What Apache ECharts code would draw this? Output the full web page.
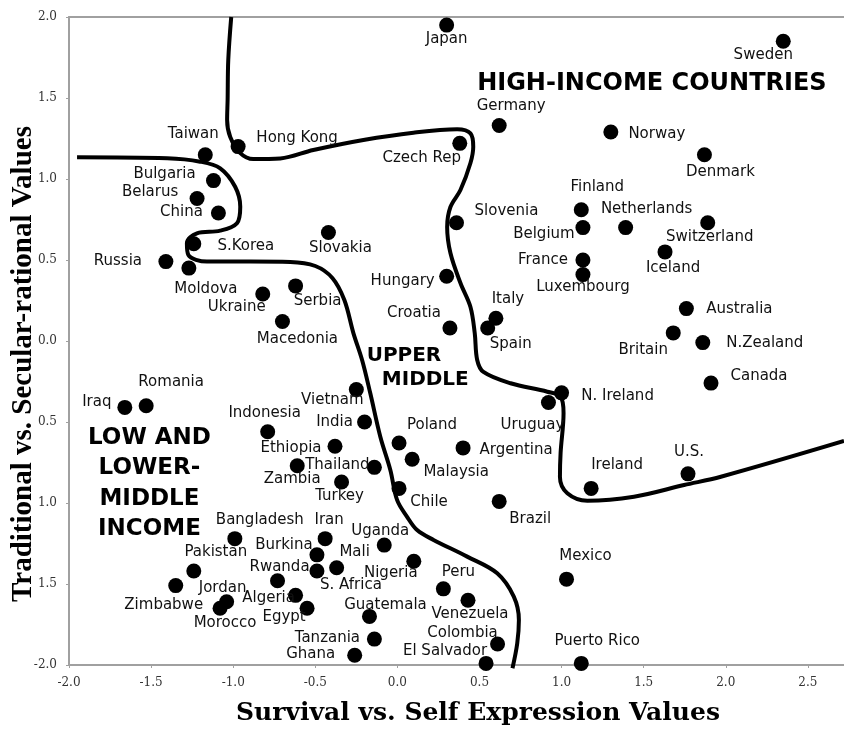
<!DOCTYPE html>
<html><head><meta charset="utf-8">
<script src="https://cdn.jsdelivr.net/npm/echarts@6/dist/echarts.min.js"></script>
<style>html,body{margin:0;padding:0;background:#fff}#c{width:844px;height:729px}</style>
</head><body><div id="c"></div>
<script>
// ---- data ----
const countries = ['Japan','Sweden','Germany','Norway','Czech Rep','Hong Kong','Taiwan','Denmark','Bulgaria','Belarus','China','Finland','Slovenia','Switzerland','Belgium','Netherlands','Slovakia','S.Korea','Iceland','France','Russia','Moldova','Luxembourg','Hungary','Serbia','Ukraine','Australia','Italy','Macedonia','Croatia','Spain','Britain','N.Zealand','Canada','Vietnam','N. Ireland','Uruguay','Romania','Iraq','India','Indonesia','Poland','Ethiopia','Argentina','Malaysia','Zambia','Thailand','Turkey','U.S.','Chile','Ireland','Brazil','Bangladesh','Iran','Uganda','Burkina','Mali','Nigeria','Pakistan','S. Africa','Mexico','Rwanda','Zimbabwe','Peru','Algeria','Venezuela','Jordan','Morocco','Egypt','Guatemala','Tanzania','Colombia','Ghana','Puerto Rico','El Salvador'];
const survivalSelfExpression = [0.30,2.35,0.62,1.30,0.38,-0.97,-1.17,1.87,-1.12,-1.22,-1.09,1.12,0.36,1.89,1.13,1.39,-0.42,-1.24,1.63,1.13,-1.41,-1.27,1.13,0.30,-0.62,-0.82,1.76,0.60,-0.70,0.32,0.55,1.68,1.86,1.91,-0.25,1.00,0.92,-1.53,-1.66,-0.20,-0.79,0.01,-0.38,0.40,0.09,-0.61,-0.14,-0.34,1.77,0.01,1.18,0.62,-0.99,-0.44,-0.08,-0.49,-0.37,0.10,-1.24,-0.49,1.03,-0.73,-1.35,0.28,-0.62,0.43,-1.04,-1.08,-0.55,-0.17,-0.14,0.61,-0.26,1.12,0.54];
const traditionalSecular = [1.95,1.85,1.33,1.29,1.22,1.20,1.15,1.15,0.99,0.88,0.79,0.81,0.73,0.73,0.70,0.70,0.67,0.60,0.55,0.50,0.49,0.45,0.41,0.40,0.34,0.29,0.20,0.14,0.12,0.08,0.08,0.05,-0.01,-0.26,-0.30,-0.32,-0.38,-0.40,-0.41,-0.50,-0.56,-0.63,-0.65,-0.66,-0.73,-0.77,-0.78,-0.87,-0.82,-0.91,-0.91,-0.99,-1.22,-1.22,-1.26,-1.32,-1.40,-1.36,-1.42,-1.42,-1.47,-1.48,-1.51,-1.53,-1.57,-1.60,-1.61,-1.65,-1.65,-1.70,-1.84,-1.87,-1.94,-1.99,-1.99];

const highIncomeBoundary = [[-1.012,2.0],[-1.030,1.735],[-1.034,1.488],[-1.037,1.364],[-1.018,1.259],[-0.957,1.160],[-0.878,1.123],[-0.713,1.127],[-0.512,1.179],[-0.207,1.241],[0.098,1.286],[0.364,1.307],[0.445,1.282],[0.462,1.199],[0.445,1.099],[0.384,0.932],[0.323,0.827],[0.303,0.704],[0.323,0.543],[0.384,0.358],[0.445,0.210],[0.471,0.049],[0.486,-0.117],[0.524,-0.191],[0.689,-0.261],[0.913,-0.313],[0.994,-0.344],[1.012,-0.444],[0.994,-0.691],[0.990,-0.840],[1.035,-0.940],[1.157,-0.986],[1.441,-0.961],[1.746,-0.889],[1.970,-0.838],[2.72,-0.617]];
const lowIncomeBoundary = [[-1.951,1.134],[-1.402,1.128],[-1.201,1.107],[-1.079,1.066],[-0.988,0.952],[-0.957,0.829],[-0.977,0.727],[-1.079,0.681],[-1.221,0.665],[-1.282,0.603],[-1.273,0.531],[-1.160,0.490],[-0.896,0.490],[-0.652,0.488],[-0.500,0.463],[-0.396,0.389],[-0.323,0.253],[-0.268,0.049],[-0.215,-0.117],[-0.165,-0.323],[-0.104,-0.591],[-0.043,-0.796],[-0.002,-0.981],[0.059,-1.085],[0.120,-1.167],[0.220,-1.228],[0.425,-1.331],[0.608,-1.434],[0.709,-1.578],[0.740,-1.722],[0.730,-1.866],[0.701,-2.02]];

const regionNames = ['HIGH-INCOME COUNTRIES','UPPER','MIDDLE','LOW AND\nLOWER-\nMIDDLE\nINCOME'];
const regionX = [1.55, 0.04, 0.17, -1.51];
const regionY = [1.59, -0.09, -0.24, -0.88];

const xTickValues = [-2,-1.5,-1,-0.5,0,0.5,1,1.5,2,2.5];
const xTickLabels = ['-2.0','-1.5','-1.0','-0.5','0.0','0.5','1.0','1.5','2.0','2.5'];
const yTickValues = [-2,-1.5,-1,-0.5,0,0.5,1,1.5,2];
const yTickLabels = ['-2.0','1.5','1.0','0.5','0.0','0.5','1.0','1.5','2.0'];

// ---- label placement (style) ----
const labelOffset = {
 'Japan':[0,14],'Sweden':[-20,14],'Germany':[12,-19],'Norway':[46,2],'Czech Rep':[-38,15],'Hong Kong':[59,-8],
 'Taiwan':[-12,-21],'Denmark':[16,17],'Bulgaria':[-49,-7],'Belarus':[-47,-6],'China':[-37,-1],'Finland':[16,-23],
 'Slovenia':[50,-12],'Switzerland':[2,14],'Belgium':[-39,7],'Netherlands':[21,-18],'Slovakia':[12,16],'S.Korea':[52,2],
 'Iceland':[8,16],'France':[-40,0],'Russia':[-48,-1],'Moldova':[17,21],'Luxembourg':[0,13],'Hungary':[-44,5],
 'Serbia':[22,15],'Ukraine':[-26,13],'Australia':[53,1],'Italy':[12,-19],'Macedonia':[15,18],'Croatia':[-36,-15],
 'Spain':[23,16],'Britain':[-30,17],'N.Zealand':[62,0],'Canada':[48,-7],'Vietnam':[-24,11],'N. Ireland':[56,3],
 'Uruguay':[-16,23],'Romania':[25,-24],'Iraq':[-28,-5],'India':[-30,0],'Indonesia':[-3,-19],'Poland':[33,-18],
 'Ethiopia':[-44,2],'Argentina':[53,2],'Malaysia':[44,13],'Zambia':[-5,13],'Thailand':[-37,-2],'Turkey':[-2,14],
 'U.S.':[1,-22],'Chile':[30,14],'Ireland':[26,-23],'Brazil':[31,18],'Bangladesh':[25,-19],'Iran':[4,-19],
 'Uganda':[-4,-14],'Burkina':[-33,-10],'Mali':[18,-16],'Nigeria':[-23,12],'Pakistan':[22,-19],'S. Africa':[34,14],
 'Mexico':[19,-23],'Rwanda':[2,-14],'Zimbabwe':[-12,19],'Peru':[15,-17],'Algeria':[-27,3],'Venezuela':[2,14],
 'Jordan':[-4,-14],'Morocco':[5,15],'Egypt':[-23,9],'Guatemala':[16,-11],'Tanzania':[-47,-1],'Colombia':[-35,-11],
 'Ghana':[-44,-1],'Puerto Rico':[16,-22],'El Salvador':[-41,-12]
};
const regionFont = [24, 20, 20, 23];

const pointData = countries.map((n, i) => ({
  name: n, value: [survivalSelfExpression[i], traditionalSecular[i]],
  label: { offset: labelOffset[n] || [0, 0] }
}));
const regionData = regionNames.map((n, i) => ({
  name: n, value: [regionX[i], regionY[i]],
  label: { fontSize: regionFont[i], lineHeight: 30.5 }
}));

function fmt(vals, labels) {
  return v => { const i = vals.findIndex(t => Math.abs(t - v) < 1e-6); return i >= 0 ? labels[i] : ''; };
}
const axisGray = '#a0a0a0';
const chart = echarts.init(document.getElementById('c'), null, { renderer: 'canvas' });
chart.setOption({
  animation: false,
  backgroundColor: '#ffffff',
  grid: { left: 69, right: 0, top: 17, bottom: 64 },
  xAxis: [{
    type: 'value', min: -2, max: 2.72, interval: 0.5,
    axisLine: { show: true, onZero: false, lineStyle: { color: axisGray, width: 2 } },
    axisTick: { show: true, length: 3, customValues: xTickValues, lineStyle: { color: axisGray, width: 1 } },
    axisLabel: { customValues: xTickValues, formatter: fmt(xTickValues, xTickLabels), fontFamily: 'DejaVu Serif', fontSize: 12, color: '#333', margin: 12 },
    splitLine: { show: false }
  }, {
    type: 'value', position: 'top', min: -2, max: 2.72,
    axisLine: { show: true, onZero: false, lineStyle: { color: axisGray, width: 2 } },
    axisTick: { show: false }, axisLabel: { show: false }, splitLine: { show: false }
  }],
  yAxis: {
    type: 'value', min: -2, max: 2, interval: 0.5,
    axisLine: { show: true, onZero: false, lineStyle: { color: axisGray, width: 2 } },
    axisTick: { show: true, length: 3, customValues: yTickValues, lineStyle: { color: axisGray, width: 1 } },
    axisLabel: { customValues: yTickValues, formatter: fmt(yTickValues, yTickLabels), fontFamily: 'DejaVu Serif', fontSize: 12, color: '#333', margin: 12 },
    splitLine: { show: false }
  },
  graphic: [
    { type: 'text', x: 478, y: 713, style: { text: 'Survival vs. Self Expression Values', fontFamily: 'DejaVu Serif', fontWeight: 'bold', fontSize: 25, fill: '#000', textAlign: 'center', textVerticalAlign: 'middle' } },
    { type: 'text', x: 24, y: 364, rotation: Math.PI / 2, style: { text: 'Traditional vs. Secular-rational Values', fontFamily: 'Liberation Serif', fontWeight: 'bold', fontSize: 29, fill: '#000', textAlign: 'center', textVerticalAlign: 'middle' } }
  ],
  series: [
    { type: 'line', data: highIncomeBoundary, smooth: 0.35, symbol: 'none', clip: false, silent: true,
      lineStyle: { color: '#000', width: 4 }, z: 2 },
    { type: 'line', data: lowIncomeBoundary, smooth: 0.35, symbol: 'none', clip: false, silent: true,
      lineStyle: { color: '#000', width: 4 }, z: 2 },
    { type: 'scatter', data: pointData, symbol: 'circle', symbolSize: 15, clip: false,
      itemStyle: { color: '#000', opacity: 1 }, z: 3,
      label: { show: true, formatter: '{b}', position: 'inside', fontFamily: 'DejaVu Sans', fontSize: 15, color: '#111', opacity: 1 } },
    { type: 'scatter', data: regionData, symbolSize: 0, silent: true, z: 4,
      itemStyle: { opacity: 1 },
      label: { show: true, formatter: '{b}', position: 'inside', fontFamily: 'DejaVu Sans', fontWeight: 'bold', color: '#000', align: 'center', opacity: 1 } }
  ]
});
</script></body></html>
